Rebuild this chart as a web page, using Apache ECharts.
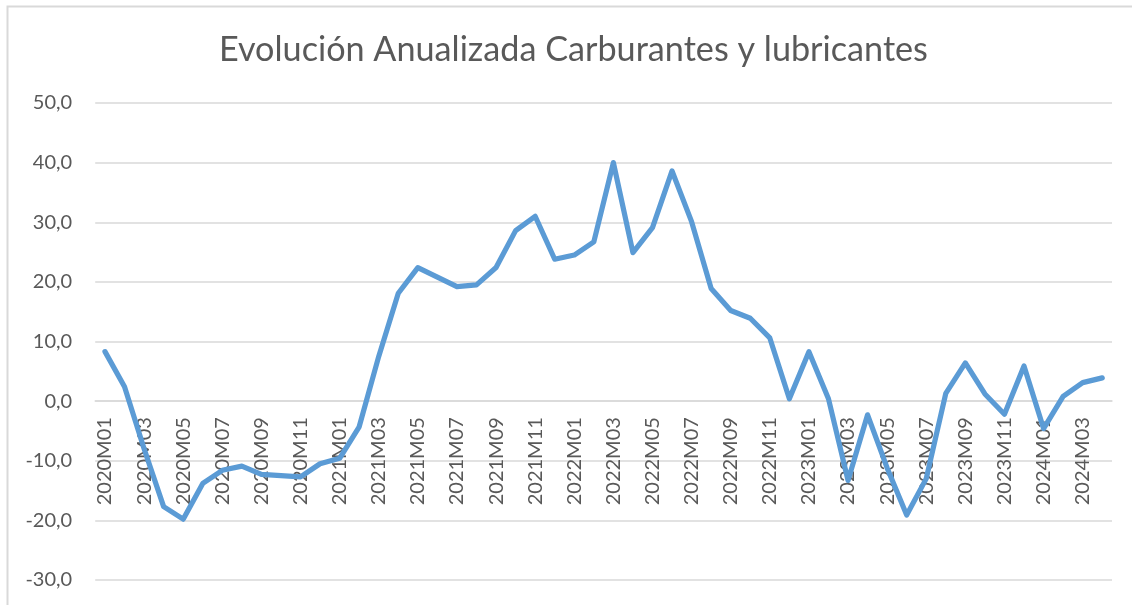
<!DOCTYPE html>
<html>
<head>
<meta charset="utf-8">
<script src="https://cdn.jsdelivr.net/npm/echarts@6/dist/echarts.min.js"></script>
<style>html,body{margin:0;padding:0;background:#fff;}#chart{width:1132px;height:605px;}</style>
</head>
<body>
<div id="chart"></div>
<script>
const titleText = 'Evolución Anualizada Carburantes y lubricantes';
const categories = [
  '2020M01','2020M02','2020M03','2020M04','2020M05','2020M06','2020M07','2020M08','2020M09','2020M10','2020M11','2020M12',
  '2021M01','2021M02','2021M03','2021M04','2021M05','2021M06','2021M07','2021M08','2021M09','2021M10','2021M11','2021M12',
  '2022M01','2022M02','2022M03','2022M04','2022M05','2022M06','2022M07','2022M08','2022M09','2022M10','2022M11','2022M12',
  '2023M01','2023M02','2023M03','2023M04','2023M05','2023M06','2023M07','2023M08','2023M09','2023M10','2023M11','2023M12',
  '2024M01','2024M02','2024M03','2024M04'
];
const values = [
  8.3, 2.4, -8.0, -17.7, -19.8, -13.8, -11.6, -10.9, -12.3, -12.5, -12.7, -10.5,
  -9.6, -4.3, 7.5, 18.1, 22.4, 20.8, 19.2, 19.5, 22.4, 28.6, 31.0, 23.8,
  24.5, 26.7, 40.0, 24.9, 29.1, 38.6, 30.1, 18.9, 15.2, 13.9, 10.6, 0.4,
  8.3, 0.4, -13.3, -2.3, -11.2, -19.1, -13.0, 1.3, 6.4, 1.2, -2.2, 5.9,
  -4.6, 0.8, 3.1, 3.9
];
const yMin = -30, yMax = 50, yStep = 10;

const gridTop = 103, gridBottom = 25, chartH = 605;
const plotH = chartH - gridTop - gridBottom;
const zeroOffset = -plotH * (0 - yMin) / (yMax - yMin);

const chart = echarts.init(document.getElementById('chart'), null, {renderer: 'canvas'});
chart.setOption({
  animation: false,
  backgroundColor: '#ffffff',
  graphic: [{
    type: 'rect', left: 5, top: 4, silent: true,
    shape: {width: 1300, height: 800},
    style: {fill: 'none', stroke: '#d9d9d9', lineWidth: 2}
  }],
  title: {
    text: titleText, left: 214, top: 28,
    textStyle: {fontFamily: 'Lato', fontSize: 34.2, fontWeight: 'normal', color: '#595959'}
  },
  grid: {left: 95.2, right: 20, top: gridTop, bottom: gridBottom, containLabel: false, outerBoundsMode: 'none'},
  xAxis: {
    type: 'category', data: categories, boundaryGap: true, offset: zeroOffset,
    axisLine: {onZero: false, lineStyle: {color: '#d9d9d9', width: 1.5}},
    axisTick: {show: false},
    axisLabel: {interval: 1, rotate: 90, margin: 16, fontFamily: 'Lato', fontSize: 20, color: '#595959'},
    splitLine: {show: false}
  },
  yAxis: {
    type: 'value', min: yMin, max: yMax, interval: yStep,
    axisLine: {show: false}, axisTick: {show: false},
    axisLabel: {margin: 23, fontFamily: 'Lato', fontSize: 20, color: '#595959',
      formatter: v => v.toFixed(1).replace('.', ',')},
    splitLine: {lineStyle: {color: '#d9d9d9', width: 1.5}}
  },
  series: [{
    type: 'line', data: values, showSymbol: false, symbol: 'none',
    lineStyle: {color: '#5b9bd5', width: 5.2, join: 'round', cap: 'round'}
  }]
});
</script>
</body>
</html>
